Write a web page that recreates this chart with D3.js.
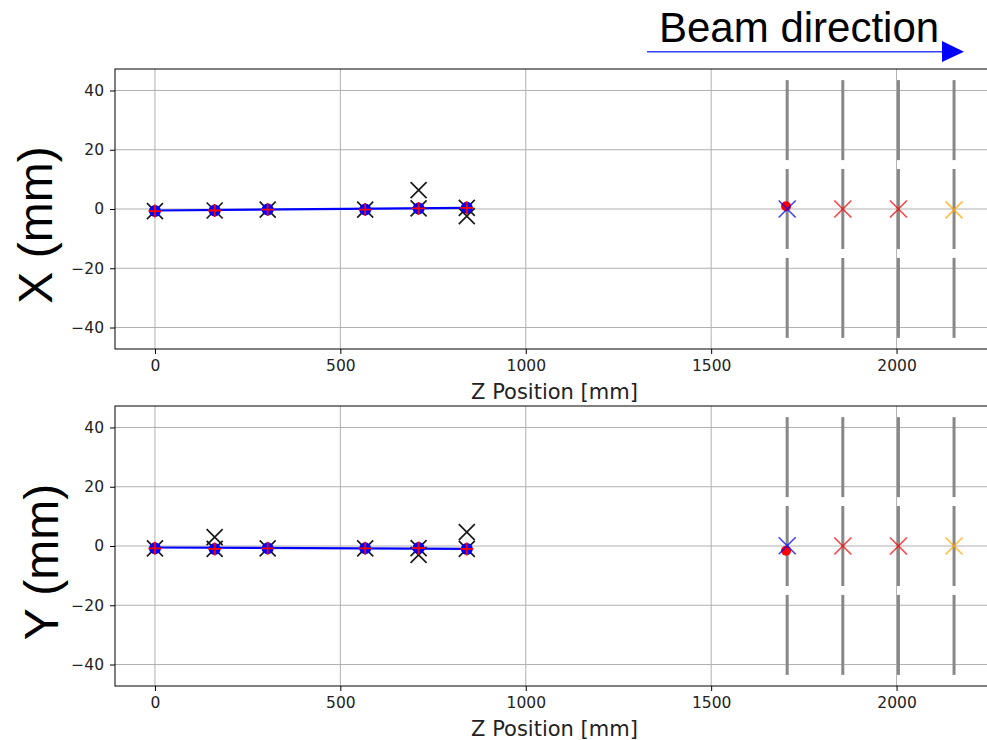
<!DOCTYPE html>
<html>
<head>
<meta charset="utf-8">
<script src="https://cdn.jsdelivr.net/npm/d3@7"></script>
<style>
  body { margin: 0; background: #fff; }
  svg { display: block; }
  .tick text { font-family: "DejaVu Sans", sans-serif; }
</style>
</head>
<body>
<div id="chart-area"></div>
<script>
// tracker planes (z in mm) and fitted track points
var planeZ = [0, 161, 304, 567, 711, 841];
var dotX = [-0.7, -0.5, -0.2, -0.2, 0.2, 0.4];
var dotY = [-0.8, -1.0, -0.8, -0.8, -0.7, -1.0];

// straight line fit through the planes
var fitZ = [0, 841];
var fitX = [-0.5, 0.4];
var fitY = [-0.5, -1.0];

// raw hits (black crosses)
var hitZ_X = [0, 161, 304, 567, 711, 711, 841, 841];
var hitX = [-0.7, -0.5, -0.2, -0.2, 0.2, 6.4, 0.4, -2.4];
var hitZ_Y = [0, 161, 161, 304, 567, 711, 711, 841, 841];
var hitY = [-0.8, -1.0, 3.0, -0.8, -0.8, -0.7, -3.0, -1.0, 4.7];

// downstream detectors
var detZ = [1705, 1855, 2005, 2155];
var detSegments = [[16.5, 43.5], [-13.5, 13.5], [-43.5, -16.5]];
var detHitX = [0, 0, 0, -0.3];
var detHitY = [0.1, 0, 0, 0];
var detColors = ["#0000ff", "#ff0000", "#ff0000", "#ffa500"];
var extrapZ = [1702];
var extrapX = [0.9];
var extrapY = [-1.6];

var zTicks = [0, 500, 1000, 1500, 2000];
var vTicks = [-40, -20, 0, 20, 40];

var svgW = 987, svgH = 740;
var left = 115, right = 994;

var svg = d3.select("#chart-area").append("svg")
  .attr("width", svgW)
  .attr("height", svgH);

var x = d3.scaleLinear()
  .domain([-107.75, 2262.75])
  .range([left, right]);

function cross(r) {
  return "M" + (-r) + "," + (-r) + "L" + r + "," + r + "M" + (-r) + "," + r + "L" + r + "," + (-r);
}
function plus(r) {
  return "M" + (-r) + ",0L" + r + ",0M0," + (-r) + "L0," + r;
}

function panel(top, dotV, fitV, hitZ, hitV, detV, extV, label, labelX) {
  var h = 280;
  var y = d3.scaleLinear().domain([-47.25, 47.25]).range([top + h, top]);

  var g = svg.append("g");

  // grid
  g.selectAll(".gx").data(zTicks).enter().append("line")
    .attr("x1", d => x(d)).attr("x2", d => x(d))
    .attr("y1", top).attr("y2", top + h)
    .attr("stroke", "#b0b0b0").attr("stroke-width", 1);
  g.selectAll(".gy").data(vTicks).enter().append("line")
    .attr("x1", left).attr("x2", right)
    .attr("y1", d => y(d)).attr("y2", d => y(d))
    .attr("stroke", "#b0b0b0").attr("stroke-width", 1);

  // axes
  var xAxis = g.append("g")
    .attr("transform", "translate(0," + (top + h) + ")")
    .call(d3.axisBottom(x).tickValues(zTicks).tickSize(5).tickPadding(6).tickFormat(d3.format("d")));
  xAxis.select(".domain").remove();
  xAxis.selectAll("text").attr("font-size", 15.5).attr("fill", "#222");

  var yAxis = g.append("g")
    .attr("transform", "translate(" + left + ",0)")
    .call(d3.axisLeft(y).tickValues(vTicks).tickSize(5).tickPadding(6).tickFormat(d => d < 0 ? "\u2212" + Math.abs(d) : d));
  yAxis.select(".domain").remove();
  yAxis.selectAll("text").attr("font-size", 15.5).attr("fill", "#222");

  // detectors
  detZ.forEach(function (z) {
    g.selectAll(null).data(detSegments).enter().append("line")
      .attr("x1", x(z)).attr("x2", x(z))
      .attr("y1", d => y(d[0])).attr("y2", d => y(d[1]))
      .attr("stroke", "#888888").attr("stroke-width", 3);
  });

  // raw hits
  g.selectAll(null).data(hitZ).enter().append("path")
    .attr("d", cross(8))
    .attr("transform", (d, i) => "translate(" + x(d) + "," + y(hitV[i]) + ")")
    .attr("stroke", "#1a1a1a").attr("stroke-width", 1.7).attr("fill", "none");

  // fit line
  var line = d3.line().x(d => x(d[0])).y(d => y(d[1]));
  g.append("path")
    .datum(fitZ.map((z, i) => [z, fitV[i]]))
    .attr("d", line)
    .attr("stroke", "#0000ff").attr("stroke-width", 2.2).attr("fill", "none");

  // track points
  g.selectAll(null).data(planeZ).enter().append("circle")
    .attr("cx", d => x(d)).attr("cy", (d, i) => y(dotV[i]))
    .attr("r", 6).attr("fill", "#0000ff");
  g.selectAll(null).data(planeZ).enter().append("path")
    .attr("d", plus(6.5))
    .attr("transform", (d, i) => "translate(" + x(d) + "," + y(dotV[i]) + ")")
    .attr("stroke", "#ff0000").attr("stroke-width", 1.8).attr("fill", "none");

  // extrapolated point
  g.selectAll(null).data(extrapZ).enter().append("circle")
    .attr("cx", d => x(d)).attr("cy", (d, i) => y(extV[i]))
    .attr("r", 5).attr("fill", "#ff0000");

  // detector hits
  g.selectAll(null).data(detZ).enter().append("path")
    .attr("d", cross(8.5))
    .attr("transform", (d, i) => "translate(" + x(d) + "," + y(detV[i]) + ")")
    .attr("stroke", (d, i) => detColors[i]).attr("stroke-opacity", 0.75)
    .attr("stroke-width", 1.6).attr("fill", "none");

  // frame
  g.append("rect")
    .attr("x", left).attr("y", top)
    .attr("width", right - left).attr("height", h)
    .attr("fill", "none").attr("stroke", "#000").attr("stroke-width", 1);

  // labels
  g.append("text")
    .attr("x", (left + right) / 2)
    .attr("y", top + h + 50)
    .attr("text-anchor", "middle")
    .attr("font-family", "DejaVu Sans, sans-serif")
    .attr("font-size", 21)
    .attr("fill", "#222")
    .text("Z Position [mm]");

  g.append("text")
    .attr("transform", "translate(" + labelX + "," + (top + h / 2 + 16) + ") rotate(-90)")
    .attr("text-anchor", "middle")
    .attr("font-family", "Liberation Sans, Arial, sans-serif")
    .attr("font-size", 48)
    .text(label);
}

panel(69, dotX, fitX, hitZ_X, hitX, detHitX, extrapX, "X (mm)", 52);
panel(406, dotY, fitY, hitZ_Y, hitY, detHitY, extrapY, "Y (mm)", 58);

// beam direction
svg.append("text")
  .attr("x", 659).attr("y", 41.5)
  .attr("font-family", "Liberation Sans, Arial, sans-serif")
  .attr("font-size", 42)
  .text("Beam direction");
svg.append("line")
  .attr("x1", 647).attr("x2", 944)
  .attr("y1", 51.7).attr("y2", 51.7)
  .attr("stroke", "#3040ff").attr("stroke-width", 1.5);
svg.append("path")
  .attr("d", "M942,41L964,51.7L942,62Z")
  .attr("fill", "#0000ff");
</script>
</body>
</html>
